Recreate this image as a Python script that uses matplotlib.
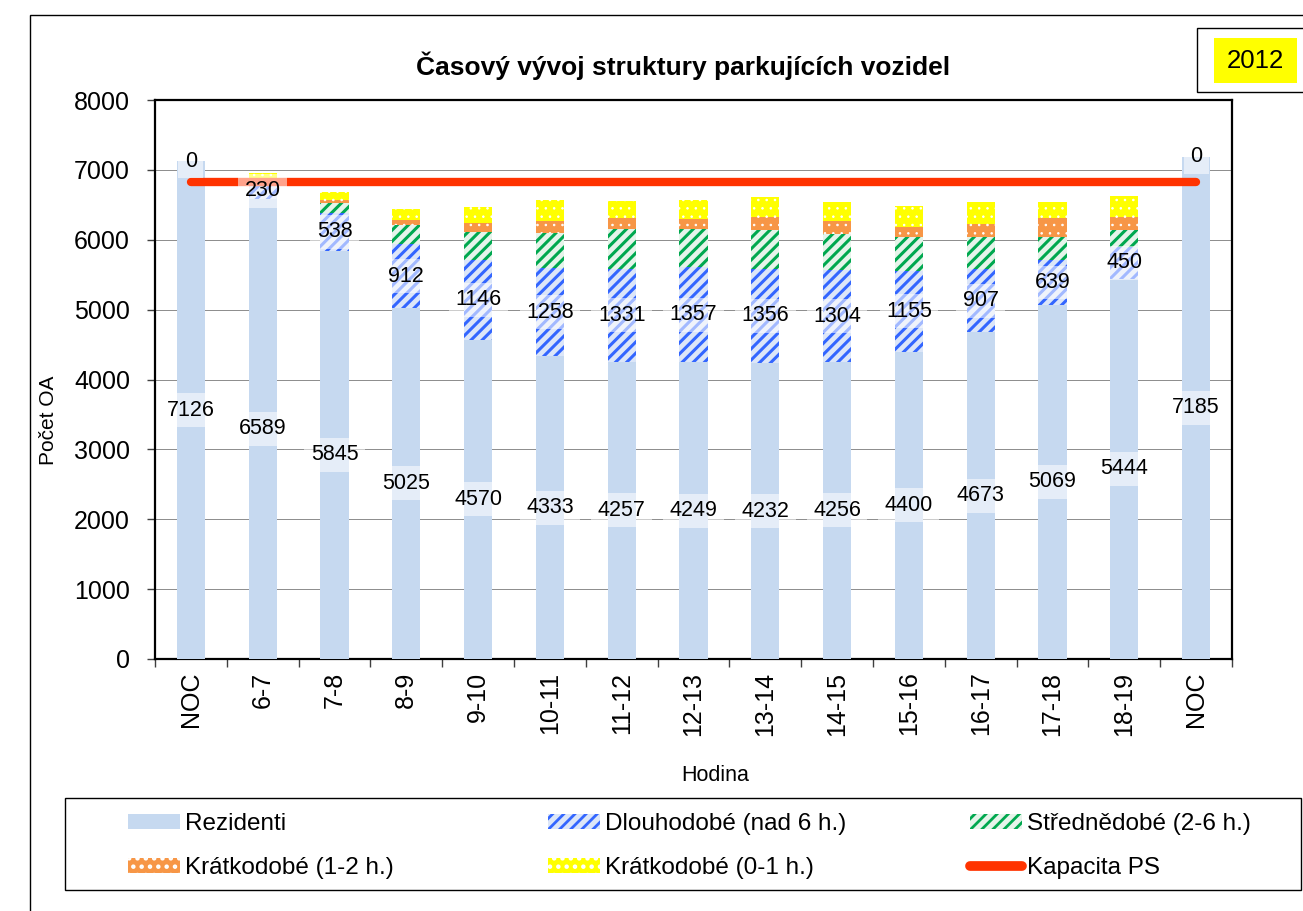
import matplotlib
matplotlib.use("Agg")
import matplotlib.pyplot as plt
from matplotlib.patches import Patch, Rectangle
from matplotlib.lines import Line2D
import numpy as np

plt.rcParams['font.family'] = ['Liberation Sans', 'DejaVu Sans']
plt.rcParams['hatch.linewidth'] = 2.0

# ---------------- data ----------------
categories = ['NOC', '6-7', '7-8', '8-9', '9-10', '10-11', '11-12', '12-13',
              '13-14', '14-15', '15-16', '16-17', '17-18', '18-19', 'NOC']
rezidenti = [7126, 6589, 5845, 5025, 4570, 4333, 4257, 4249, 4232, 4256, 4400, 4673, 5069, 5444, 7185]
dlouhodobe = [0, 230, 538, 912, 1146, 1258, 1331, 1357, 1356, 1304, 1155, 907, 639, 450, 0]
strednedobe = [0, 20, 150, 276, 391, 499, 559, 545, 549, 520, 478, 453, 333, 239, 0]
kratkodobe_12 = [0, 50, 40, 72, 133, 180, 162, 148, 182, 182, 147, 190, 267, 190, 0]
kratkodobe_01 = [0, 68, 115, 157, 229, 296, 239, 277, 290, 280, 305, 319, 233, 306, 0]
kapacita = [6820, 6820, 6820, 6820, 6820, 6820, 6820, 6820, 6820, 6820, 6820, 6820, 6820, 6820, 6820]

series_names = ['Rezidenti', 'Dlouhodobé (nad 6 h.)', 'Střednědobé (2-6 h.)',
                'Krátkodobé (1-2 h.)', 'Krátkodobé (0-1 h.)']
line_name = 'Kapacita PS'
title = 'Časový vývoj struktury parkujících vozidel'
year_text = '2012'

# ---------------- figure ----------------
W, H = 1303, 911
fig = plt.figure(figsize=(W / 100, H / 100), dpi=100)
ax = fig.add_axes([155 / W, 1 - 659 / H, (1232 - 155) / W, (659 - 100) / H])

x = np.arange(len(categories))
bw = 0.39

styles = [
    dict(color='#C6D9F0', edgecolor='#C6D9F0', hatch=None, hlw=1.0),
    dict(color='#DCE6F8', edgecolor='#3366FF', hatch='///', hlw=2.2),
    dict(color='#E6F4EA', edgecolor='#00A84F', hatch='///', hlw=2.2),
    dict(color='#F79646', edgecolor='#FFFFFF', hatch='..', hlw=0.6),
    dict(color='#FFFF00', edgecolor='#FFFFFF', hatch='..', hlw=0.6),
]
data = [rezidenti, dlouhodobe, strednedobe, kratkodobe_12, kratkodobe_01]


def set_hlw(p, lw):
    try:
        p.set_hatch_linewidth(lw)
    except AttributeError:
        pass


bottom = np.zeros(len(categories))
handles = []
for vals, st, name in zip(data, styles, series_names):
    v = np.array(vals, dtype=float)
    bars = ax.bar(x, v, bw, bottom=bottom, color=st['color'], edgecolor=st['edgecolor'],
                  hatch=st['hatch'], linewidth=0, zorder=3)
    for p in bars:
        set_hlw(p, st['hlw'])
    h = Patch(facecolor=st['color'], edgecolor=st['edgecolor'],
              hatch=st['hatch'], linewidth=0, label=name)
    set_hlw(h, st['hlw'])
    handles.append(h)
    bottom = bottom + v

ax.plot(x, kapacita, color='#FF3300', lw=6, solid_capstyle='round', zorder=4)
handles.append(Line2D([0], [0], color='#FF3300', lw=7, solid_capstyle='round', label=line_name))

# data labels: Rezidenti and Dlouhodobé
box = dict(boxstyle='square,pad=0.3', facecolor='white', alpha=0.55, edgecolor='none')
r = np.array(rezidenti, dtype=float)
d = np.array(dlouhodobe, dtype=float)
for i in range(len(categories)):
    ax.text(x[i], r[i] / 2, f'{rezidenti[i]}', ha='center', va='center',
            fontsize=15.5, bbox=box, zorder=5)
    ax.text(x[i], r[i] + d[i] / 2, f'{dlouhodobe[i]}', ha='center', va='center',
            fontsize=15.5, bbox=box, zorder=5)

# axes styling
ax.set_xlim(-0.5, len(categories) - 0.5)
ax.set_ylim(0, 8000)
ax.set_yticks(np.arange(0, 8001, 1000))
ax.yaxis.grid(True, color='#8C8C8C', lw=0.7, zorder=0)
ax.set_axisbelow(True)
for s in ax.spines.values():
    s.set_linewidth(1.6)
    s.set_color('black')

ax.set_xticks(x)
ax.set_xticklabels(categories, rotation=90, fontsize=18)
ax.set_xticks(np.arange(-0.5, len(categories), 1), minor=True)
ax.tick_params(axis='x', which='major', length=0, pad=9)
ax.tick_params(axis='x', which='minor', length=6, width=1, color='#404040')
ax.tick_params(axis='y', labelsize=18, length=6, width=1, pad=12, color='#404040')

ax.set_ylabel('Počet OA', fontsize=15)
ax.yaxis.set_label_coords(-0.09, 0.4275)
ax.set_xlabel('Hodina', fontsize=15.5)
ax.xaxis.set_label_coords(0.52, -0.19)

fig.text(683 / W, 1 - 66 / H, title, ha='center', va='center', fontsize=19, fontweight='bold')

# chart area border
fig.patches.append(Rectangle((30 / W, -0.1), 1.2, 1 - 15 / H + 0.1, transform=fig.transFigure,
                             fill=False, edgecolor='black', lw=1))

# year box
fig.patches.append(Rectangle((1197 / W, 1 - 92 / H), (1310 - 1197) / W, (92 - 28) / H,
                             transform=fig.transFigure, fill=True, facecolor='white',
                             edgecolor='black', lw=1))
fig.patches.append(Rectangle((1214 / W, 1 - 83 / H), (1297 - 1214) / W, (83 - 38) / H,
                             transform=fig.transFigure, facecolor='#FFFF00', edgecolor='none'))
fig.text(1255 / W, 1 - 61 / H, year_text, ha='center', va='center', fontsize=18.5)

# legend box + three legend columns
fig.patches.append(Rectangle((65 / W, 1 - 890 / H), (1301 - 65) / W, (890 - 798) / H,
                             transform=fig.transFigure, fill=False, edgecolor='black', lw=1))
col_x = [128, 548, 970]
col_items = [[handles[0], handles[3]], [handles[1], handles[4]], [handles[2], handles[5]]]
for cx, items in zip(col_x, col_items):
    fig.legend(handles=items, loc='center left', bbox_to_anchor=(cx / W, 1 - 846 / H),
               frameon=False, fontsize=17.5, borderpad=0, borderaxespad=0,
               handlelength=2.15, handleheight=0.55, handletextpad=0.2,
               labelspacing=0.9)

fig.savefig('out.png', dpi=100)
